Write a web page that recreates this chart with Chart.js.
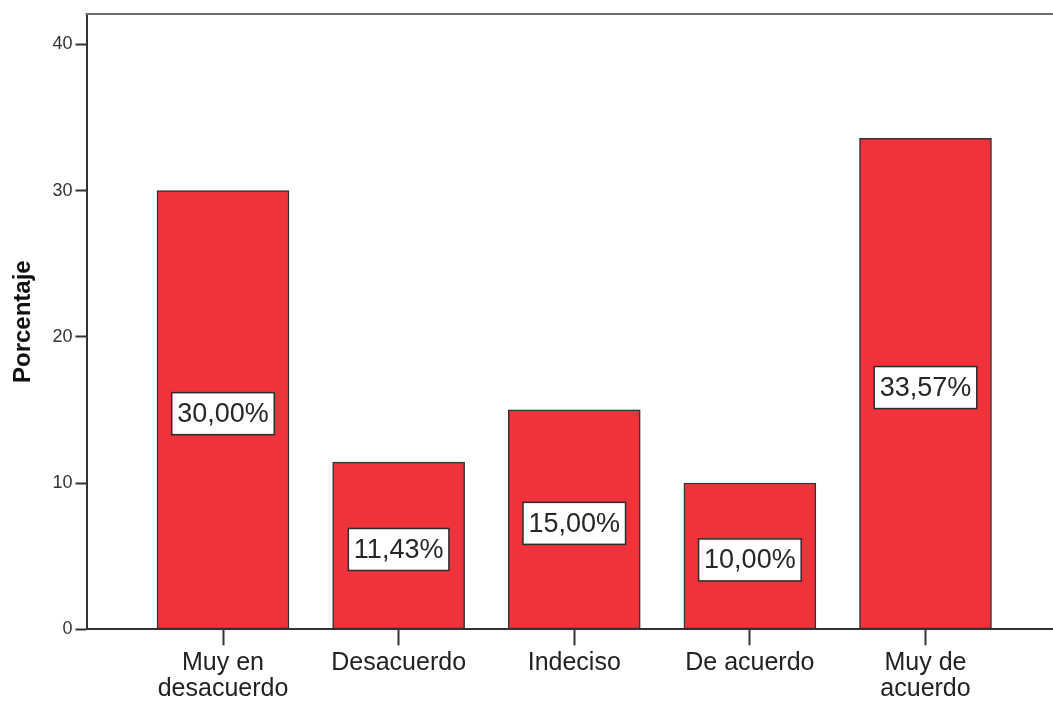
<!DOCTYPE html>
<html>
<head>
<meta charset="utf-8">
<script src="https://cdn.jsdelivr.net/npm/chart.js@4.4.1/dist/chart.umd.min.js"></script>
<style>
  html, body { margin: 0; padding: 0; background: #ffffff; }
  #wrap { width: 1053px; height: 702px; }
</style>
</head>
<body>
<div id="wrap"><canvas id="c" width="1053" height="702"></canvas></div>
<script>
// ---- data ----
const categories = [["Muy en", "desacuerdo"], "Desacuerdo", "Indeciso", "De acuerdo", ["Muy de", "acuerdo"]];
const percentages = [30.00, 11.43, 15.00, 10.00, 33.57];
const yTicks = [0, 10, 20, 30, 40];
const yAxisTitle = "Porcentaje";

const positions = categories.map((_, i) => i + 1);
const points = percentages.map((v, i) => ({ x: positions[i], y: v }));

const FONT = "'Liberation Sans', Arial, Helvetica, sans-serif";

const labelBoxes = {
  id: 'labelBoxes',
  afterDatasetsDraw(chart) {
    const ctx = chart.ctx;
    const meta = chart.getDatasetMeta(0);
    ctx.save();
    ctx.font = "27px " + FONT;
    meta.data.forEach((bar, i) => {
      const txt = percentages[i].toFixed(2).replace('.', ',') + '%';
      const tw = ctx.measureText(txt).width;
      const w = tw + 11, h = 42;
      const cy = (bar.y + bar.base) / 2 + 4;
      const x0 = bar.x - w / 2, y0 = cy - h / 2;
      ctx.fillStyle = '#ffffff';
      ctx.fillRect(x0, y0, w, h);
      ctx.lineWidth = 1.5;
      ctx.strokeStyle = '#2b2b2b';
      ctx.strokeRect(x0, y0, w, h);
      ctx.fillStyle = '#262626';
      ctx.textAlign = 'center';
      ctx.textBaseline = 'middle';
      ctx.fillText(txt, bar.x, cy + 1);
    });
    ctx.restore();
  }
};

const topLine = {
  id: 'topLine',
  afterDraw(chart) {
    const { ctx, chartArea } = chart;
    ctx.save();
    ctx.strokeStyle = '#6e6e6e';
    ctx.lineWidth = 2;
    ctx.beginPath();
    ctx.moveTo(chartArea.left - 1, chartArea.top);
    ctx.lineTo(chart.width, chartArea.top);
    ctx.stroke();
    ctx.restore();
  }
};

new Chart(document.getElementById('c'), {
  type: 'bar',
  data: {
    datasets: [{
      data: points,
      backgroundColor: 'rgb(240, 50, 58)',
      borderColor: '#333333',
      borderWidth: 1.5,
      borderSkipped: false,
      barThickness: 132
    }]
  },
  options: {
    responsive: false,
    animation: false,
    events: [],
    layout: { padding: { top: 14, left: 0, right: 0, bottom: 0 } },
    plugins: { legend: { display: false }, tooltip: { enabled: false } },
    scales: {
      x: {
        type: 'linear',
        offset: false,
        min: 0.2227,
        max: 5.726,
        afterFit(scale) { scale.height = 72.7; },
        afterBuildTicks(scale) { scale.ticks = positions.map(v => ({ value: v })); },
        grid: {
          offset: false,
          drawOnChartArea: false,
          drawTicks: true,
          tickLength: 16,
          tickColor: '#333333',
          tickWidth: 2
        },
        border: { display: true, color: '#333333', width: 2 },
        ticks: {
          autoSkip: false,
          maxRotation: 0,
          padding: 5,
          color: '#222222',
          font: { family: FONT, size: 25, lineHeight: 1.04 },
          callback(value) { return categories[value - 1]; }
        }
      },
      y: {
        min: 0,
        max: 42.07,
        afterFit(scale) { scale.width = 86.5; },
        afterBuildTicks(scale) { scale.ticks = yTicks.map(v => ({ value: v })); },
        grid: {
          drawOnChartArea: false,
          drawTicks: true,
          tickLength: 11,
          tickColor: '#333333',
          tickWidth: 2
        },
        border: { display: true, color: '#333333', width: 2 },
        ticks: {
          padding: 3,
          color: '#333333',
          font: { family: FONT, size: 18 }
        },
        title: {
          display: true,
          text: yAxisTitle,
          color: '#111111',
          font: { family: FONT, size: 24, weight: 'bold' },
          padding: { top: 9, bottom: 0 }
        }
      }
    }
  },
  plugins: [labelBoxes, topLine]
});
</script>
</body>
</html>
